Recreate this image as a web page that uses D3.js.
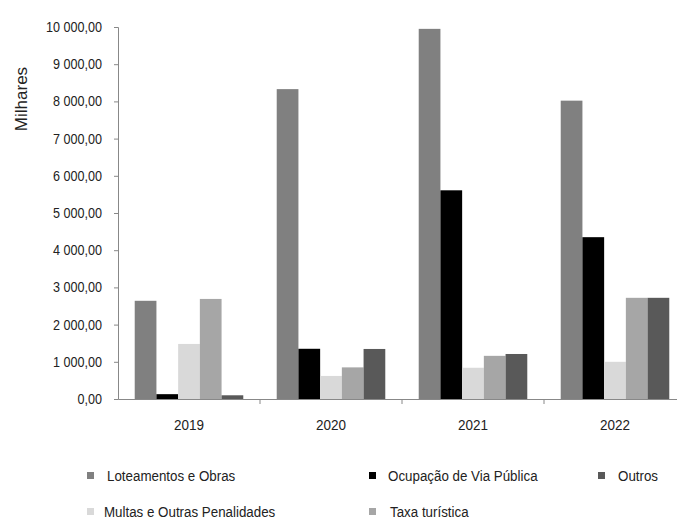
<!DOCTYPE html>
<html><head><meta charset="utf-8">
<script src="https://cdn.jsdelivr.net/npm/d3@7/dist/d3.min.js"></script>
<style>
body{margin:0;background:#fff;}
text{font-family:"Liberation Sans Narrow","Arial Narrow","Liberation Sans",sans-serif;fill:#222;}
</style></head><body>
<svg id="c" width="677" height="520"></svg>
<script>
const years = ["2019","2020","2021","2022"];
const seriesNames = ["Loteamentos e Obras","Ocupação de Via Pública","Multas e Outras Penalidades","Taxa turística","Outros"];
const seriesColors = ["#808080","#000000","#d9d9d9","#a6a6a6","#595959"];
const loteamentos = [2640, 8330, 9950, 8020];
const ocupacao   = [130, 1350, 5610, 4350];
const multas     = [1480, 620, 840, 1000];
const taxa       = [2690, 850, 1160, 2720];
const outros     = [100, 1345, 1210, 2720];
const yTicks = [0,1000,2000,3000,4000,5000,6000,7000,8000,9000,10000];

const values = [loteamentos, ocupacao, multas, taxa, outros];
const svg = d3.select("#c");
const x0 = d3.scaleBand().domain(years).range([118, 686]).paddingInner(0).paddingOuter(0);
const x1 = d3.scaleBand().domain(seriesNames).range([0, x0.bandwidth()]).paddingOuter(0.77).paddingInner(0);
const y = d3.scaleLinear().domain([0,10000]).range([399, 27]);
const fmt = v => { const s = d3.format(",.2f")(v); return s.replace(/,/g," ").replace(".",","); };

// bars
years.forEach((yr,i)=>{
  const g = svg.append("g").attr("transform",`translate(${x0(yr)},0)`);
  seriesNames.forEach((s,j)=>{
    g.append("rect").attr("x",x1(s)).attr("width",x1.bandwidth())
      .attr("y",y(values[j][i])).attr("height",y(0)-y(values[j][i]))
      .attr("fill",seriesColors[j]);
  });
});

// y axis
const ya = svg.append("g").attr("transform","translate(118,0)")
  .call(d3.axisLeft(y).tickValues(yTicks).tickFormat(fmt).tickSize(4));
ya.select(".domain").attr("stroke","#888");
ya.selectAll(".tick line").attr("stroke","#888");
ya.selectAll(".tick text").attr("font-size",14).attr("fill","#222")
  .attr("x",0).attr("transform","translate(-16,0) scale(0.9,1)");

// x axis
const xa = svg.append("g").attr("transform","translate(0,399)")
  .call(d3.axisBottom(x0).tickSize(0).tickPadding(20).tickSizeOuter(0));
xa.select(".domain").attr("stroke","#888").attr("stroke-width",1.2);
xa.selectAll(".tick text").attr("font-size",15).attr("fill","#222")
  .attr("transform","scale(0.9,1)");
svg.append("g").selectAll("line").data(years.slice(1)).join("line")
  .attr("x1",d=>x0(d)).attr("x2",d=>x0(d)).attr("y1",399).attr("y2",404).attr("stroke","#888");

// y title
svg.append("text").attr("transform","translate(27,99) rotate(-90)")
  .attr("text-anchor","middle").attr("font-size",17).text("Milhares");

// legend
const legPos = [
  {mx:87, tx:107, y:476},
  {mx:369, tx:388, y:476},
  {mx:87, tx:104, y:512},
  {mx:369, tx:390, y:512},
  {mx:598, tx:618, y:476}
];
seriesNames.forEach((s,j)=>{
  const p = legPos[j];
  svg.append("rect").attr("x",p.mx).attr("y",p.y-4).attr("width",7).attr("height",7).attr("fill",seriesColors[j]);
  svg.append("text").attr("transform",`translate(${p.tx},${p.y+5}) scale(0.89,1)`)
    .attr("font-size",15).text(s);
});
</script>
</body></html>
